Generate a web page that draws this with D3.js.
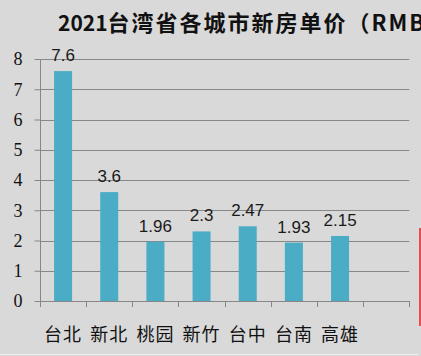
<!DOCTYPE html>
<html><head><meta charset="utf-8">
<script src="https://cdn.jsdelivr.net/npm/d3@7"></script>
<style>html,body{margin:0;padding:0;background:#d9d9d9;overflow:hidden}</style>
</head><body>
<script>
const categories = ["台北","新北","桃园","新竹","台中","台南","高雄",""];
const values = [7.6, 3.6, 1.96, 2.3, 2.47, 1.93, 2.15, null];
const yTicks = [0,1,2,3,4,5,6,7,8];
const titleYear = "2021";
const titleRest = "台湾省各城市新房单价（RMB万/平方米）";

const W = 421, H = 356;
const svg = d3.select("body").append("svg").attr("width", W).attr("height", H);
svg.append("rect").attr("width", W).attr("height", H).attr("fill", "#d9d9d9");

const x = d3.scaleBand().domain(categories.map((c,i)=>i)).range([40, 409.3]).paddingInner(0).paddingOuter(0);
const y = d3.scaleLinear().domain([0, 8]).range([301, 59]);

// gridlines
svg.append("g").selectAll("line").data(yTicks.slice(1)).join("line")
  .attr("x1", 40).attr("x2", 409.3).attr("y1", d=>Math.round(y(d))+0.5).attr("y2", d=>Math.round(y(d))+0.5)
  .attr("stroke", "#878787").attr("stroke-width", 1);

// bars
const bw = 18;
const data = values.map((v,i)=>({v,i})).filter(d=>d.v!=null);
svg.append("g").selectAll("rect").data(data).join("rect")
  .attr("x", d=>x(d.i)+x.bandwidth()/2-bw/2).attr("width", bw)
  .attr("y", d=>y(d.v)).attr("height", d=>y(0)-y(d.v))
  .attr("fill", "#4bacc6");

// value labels
svg.append("g").selectAll("text").data(data).join("text")
  .attr("x", d=>x(d.i)+x.bandwidth()/2).attr("y", d=>y(d.v)-10)
  .attr("text-anchor","middle").attr("font-family","Liberation Sans, Arial, sans-serif")
  .attr("font-size", 17).attr("fill","#1a1a1a").text(d=>d.v);

// y axis
const yAxis = svg.append("g").attr("transform","translate(40.5,0)")
  .call(d3.axisLeft(y).tickValues(yTicks).tickSize(6).tickPadding(12).tickFormat(d3.format("d")));
yAxis.select(".domain").attr("stroke","#878787").attr("d","M0,"+y(8)+"V"+(y(0)+5));
yAxis.selectAll(".tick line").attr("stroke","#878787");
yAxis.selectAll(".tick text").attr("font-family","Liberation Serif, serif").attr("font-size",18).attr("fill","#111");

// x axis
const xAxisG = svg.append("g");
xAxisG.append("line").attr("x1",40).attr("x2",409.3).attr("y1",y(0)+0.5).attr("y2",y(0)+0.5).attr("stroke","#878787");
const bounds = categories.map((c,i)=>x(i)).concat([x(categories.length-1)+x.bandwidth()]);
xAxisG.selectAll("line.t").data(bounds).join("line").attr("class","t")
  .attr("x1",d=>Math.round(d)+0.5).attr("x2",d=>Math.round(d)+0.5).attr("y1",y(0)).attr("y2",y(0)+6).attr("stroke","#878787");
xAxisG.selectAll("text").data(categories).join("text")
  .attr("x",(d,i)=>x(i)+x.bandwidth()/2).attr("y",333)
  .attr("dominant-baseline","central")
  .attr("text-anchor","middle").attr("font-family","Noto Sans CJK SC, sans-serif")
  .attr("font-size",18).attr("letter-spacing",1).attr("fill","#111").text(d=>d);

// title
const t = svg.append("text").attr("x",58).attr("y",31).attr("font-family","Noto Sans CJK SC, sans-serif")
  .attr("font-weight","bold").attr("fill","#111");
t.append("tspan").attr("font-size",21).text(titleYear);
t.append("tspan").attr("font-size",22).attr("letter-spacing",2).text(titleRest);

// right edge decorations
svg.append("line").attr("x1",420).attr("x2",420).attr("y1",228).attr("y2",326).attr("stroke","#e05050").attr("stroke-width",2);
svg.append("line").attr("x1",0).attr("x2",418).attr("y1",354.5).attr("y2",354.5).attr("stroke","#eeeeee");
</script>
</body></html>
